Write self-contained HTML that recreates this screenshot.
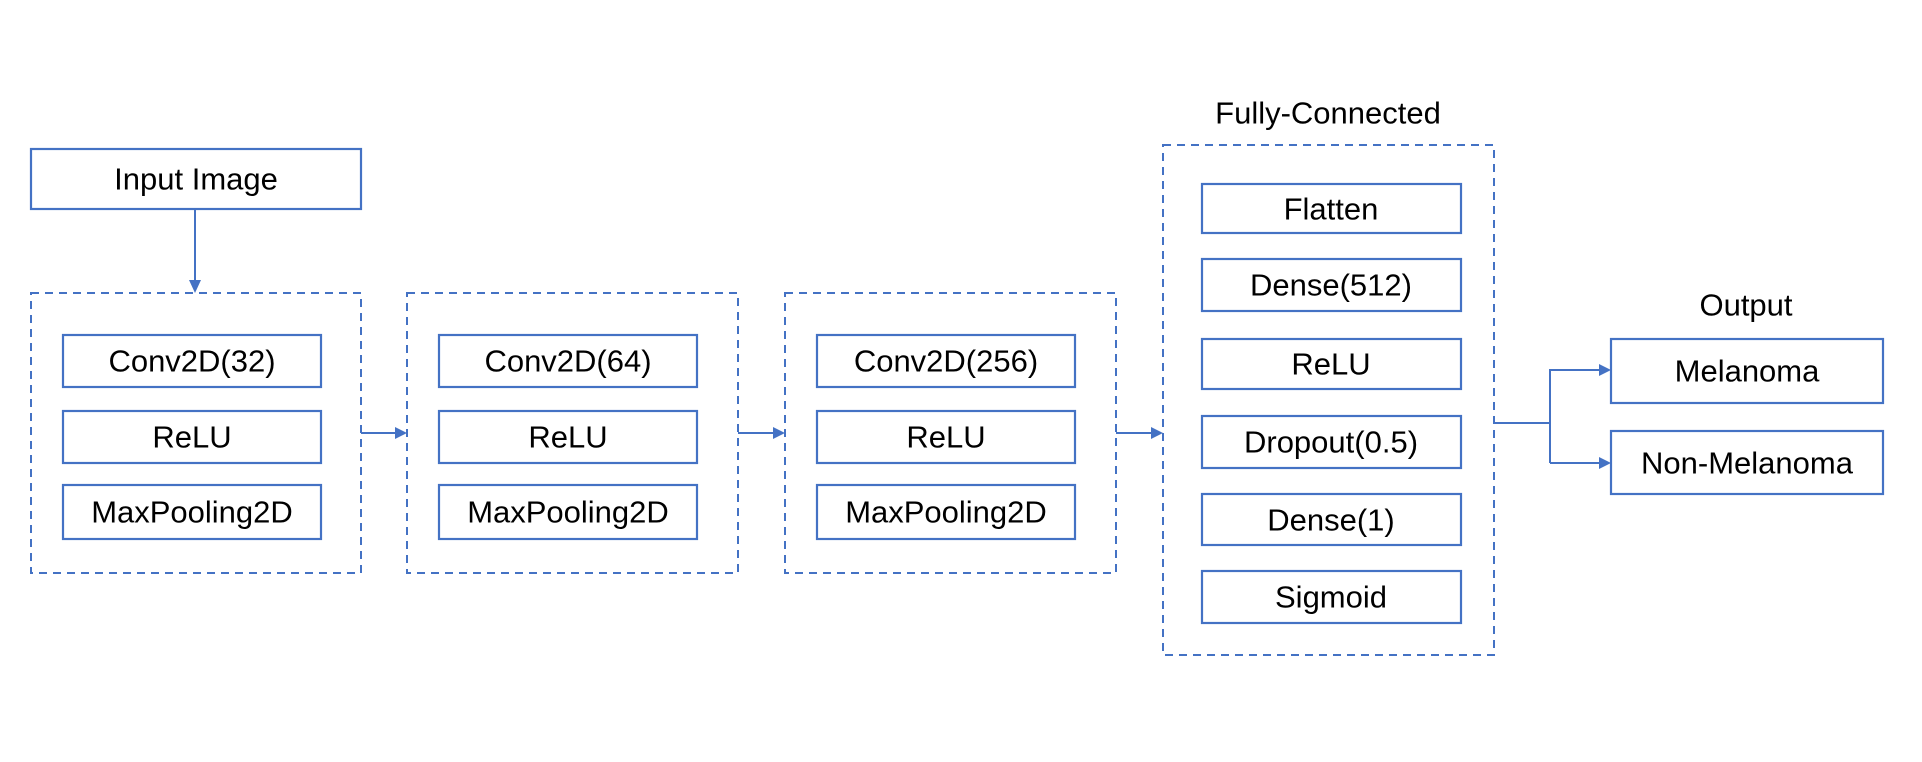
<!DOCTYPE html>
<html><head><meta charset="utf-8"><style>
html,body{margin:0;padding:0;background:#fff;}
svg{display:block;}
text{font-family:"Liberation Sans",sans-serif;font-size:31px;fill:#000;text-anchor:middle;dominant-baseline:central;}
.b{fill:#fff;stroke:#4472C4;stroke-width:2.2;}
.d{fill:none;stroke:#4472C4;stroke-width:2;stroke-dasharray:8,6;}
.l{stroke:#4472C4;stroke-width:2;fill:none;}
.a{fill:#4472C4;}
</style></head><body>
<svg width="1922" height="762" viewBox="0 0 1922 762">
<!-- Input -->
<rect class="b" x="31" y="149" width="330" height="60"/>
<text x="196" y="179">Input Image</text>
<line class="l" x1="195" y1="209" x2="195" y2="282"/>
<polygon class="a" points="189,280 201,280 195,293"/>

<!-- Block 1 -->
<rect class="d" x="31" y="293" width="330" height="280"/>
<rect class="b" x="63" y="335" width="258" height="52"/><text x="192" y="361">Conv2D(32)</text>
<rect class="b" x="63" y="411" width="258" height="52"/><text x="192" y="437">ReLU</text>
<rect class="b" x="63" y="485" width="258" height="54"/><text x="192" y="512">MaxPooling2D</text>

<line class="l" x1="361" y1="433" x2="396" y2="433"/>
<polygon class="a" points="395,427 395,439 407,433"/>

<!-- Block 2 -->
<rect class="d" x="407" y="293" width="331" height="280"/>
<rect class="b" x="439" y="335" width="258" height="52"/><text x="568" y="361">Conv2D(64)</text>
<rect class="b" x="439" y="411" width="258" height="52"/><text x="568" y="437">ReLU</text>
<rect class="b" x="439" y="485" width="258" height="54"/><text x="568" y="512">MaxPooling2D</text>

<line class="l" x1="738" y1="433" x2="774" y2="433"/>
<polygon class="a" points="773,427 773,439 785,433"/>

<!-- Block 3 -->
<rect class="d" x="785" y="293" width="331" height="280"/>
<rect class="b" x="817" y="335" width="258" height="52"/><text x="946" y="361">Conv2D(256)</text>
<rect class="b" x="817" y="411" width="258" height="52"/><text x="946" y="437">ReLU</text>
<rect class="b" x="817" y="485" width="258" height="54"/><text x="946" y="512">MaxPooling2D</text>

<line class="l" x1="1116" y1="433" x2="1152" y2="433"/>
<polygon class="a" points="1151,427 1151,439 1163,433"/>

<!-- FC -->
<text x="1328" y="113">Fully-Connected</text>
<rect class="d" x="1163" y="145" width="331" height="510"/>
<rect class="b" x="1202" y="184" width="259" height="49"/><text x="1331" y="209">Flatten</text>
<rect class="b" x="1202" y="259" width="259" height="52"/><text x="1331" y="285">Dense(512)</text>
<rect class="b" x="1202" y="339" width="259" height="50"/><text x="1331" y="364">ReLU</text>
<rect class="b" x="1202" y="416" width="259" height="52"/><text x="1331" y="442">Dropout(0.5)</text>
<rect class="b" x="1202" y="494" width="259" height="51"/><text x="1331" y="520">Dense(1)</text>
<rect class="b" x="1202" y="571" width="259" height="52"/><text x="1331" y="597">Sigmoid</text>

<!-- Output connector -->
<line class="l" x1="1494" y1="423" x2="1550" y2="423"/>
<line class="l" x1="1550" y1="369" x2="1550" y2="463"/>
<line class="l" x1="1550" y1="370" x2="1600" y2="370"/>
<line class="l" x1="1550" y1="463" x2="1600" y2="463"/>
<polygon class="a" points="1599,364 1599,376 1611,370"/>
<polygon class="a" points="1599,457 1599,469 1611,463"/>

<text x="1746" y="305">Output</text>
<rect class="b" x="1611" y="339" width="272" height="64"/><text x="1747" y="371">Melanoma</text>
<rect class="b" x="1611" y="431" width="272" height="63"/><text x="1747" y="463">Non-Melanoma</text>
</svg>
</body></html>
